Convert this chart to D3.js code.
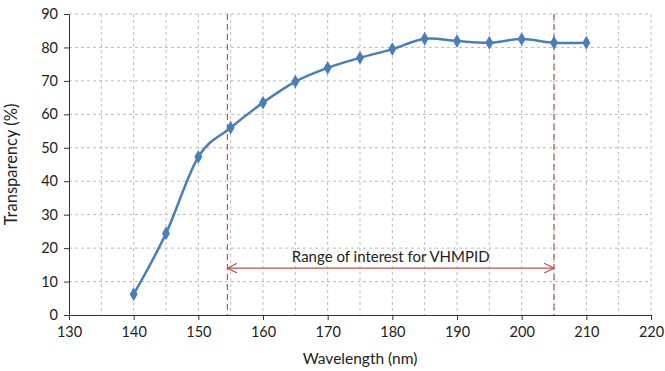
<!DOCTYPE html>
<html>
<head>
<meta charset="utf-8">
<script src="https://cdn.jsdelivr.net/npm/d3@7"></script>
<style>
  body { margin: 0; background: #fff; }
  text { font-family: Lato, "Open Sans", sans-serif; fill: #222; }
  .grid line { stroke: #bdbdbd; stroke-dasharray: 3,3; }
  .axis path, .axis line { stroke: #333; }
</style>
</head>
<body>
<div id="chart-area"></div>
<script>
const margin = {top:14, right:14, bottom:56, left:69};

const wavelength = [140,145,150,155,160,165,170,175,180,185,190,195,200,205,210];
const transparency = [6.2,24.4,47.3,56.0,63.5,69.8,73.9,76.9,79.5,82.6,81.9,81.4,82.5,81.4,81.4];

const xTicks = [130,140,150,160,170,180,190,200,210,220];
const yTicks = [0,10,20,30,40,50,60,70,80,90];
const rangeLimits = [154.5, 205];
const rangeLabel = "Range of interest for VHMPID";

var width = 665 - margin.left - margin.right;
var height = 371 - margin.top - margin.bottom;

var svg = d3.select("#chart-area").append("svg")
    .attr("width", 665)
    .attr("height", 371);

var defs = svg.append("defs");
defs.append("marker")
    .attr("id","arr")
    .attr("viewBox","0 0 10 10")
    .attr("refX",10).attr("refY",5)
    .attr("markerWidth",10).attr("markerHeight",10)
    .attr("markerUnits","userSpaceOnUse")
    .attr("orient","auto-start-reverse")
    .append("path")
    .attr("d","M0,0 L10,5 L0,10")
    .attr("fill","none")
    .attr("stroke","#c0504d")
    .attr("stroke-width",1.2);

var g = svg.append("g")
    .attr("transform","translate(" + margin.left + "," + margin.top + ")");

var x = d3.scaleLinear().domain([130,220]).range([0,width]);
var y = d3.scaleLinear().domain([0,90]).range([height,0]);

// grid
var grid = g.append("g").attr("class","grid");
grid.selectAll(".gx")
    .data(d3.range(135,221,5))
    .enter().append("line")
    .attr("x1",d => x(d)).attr("x2",d => x(d))
    .attr("y1",0).attr("y2",height);
grid.selectAll(".gy")
    .data(yTicks.slice(1))
    .enter().append("line")
    .attr("x1",0).attr("x2",width)
    .attr("y1",d => y(d)).attr("y2",d => y(d));

// axes
g.append("g")
    .attr("class","axis")
    .attr("transform","translate(0," + height + ")")
    .call(d3.axisBottom(x).tickValues(xTicks).tickSize(5).tickSizeOuter(0).tickPadding(7))
    .selectAll("text").style("font-size","14.5px");

g.append("g")
    .attr("class","axis")
    .call(d3.axisLeft(y).tickValues(yTicks).tickSize(5).tickSizeOuter(0).tickPadding(6))
    .selectAll("text").style("font-size","14.5px");

// range lines
g.selectAll(".rl")
    .data(rangeLimits)
    .enter().append("line")
    .attr("x1",d => x(d)).attr("x2",d => x(d))
    .attr("y1",0).attr("y2",height)
    .attr("stroke","#c0504d")
    .attr("stroke-width",1.2)
    .attr("stroke-dasharray","6,4");

g.append("line")
    .attr("x1",x(rangeLimits[0])).attr("x2",x(rangeLimits[1]))
    .attr("y1",y(14)).attr("y2",y(14))
    .attr("stroke","#c0504d")
    .attr("stroke-width",1.2)
    .attr("marker-start","url(#arr)")
    .attr("marker-end","url(#arr)");

g.append("text")
    .attr("x",(x(rangeLimits[0]) + x(rangeLimits[1]))/2)
    .attr("y",y(14) - 6)
    .attr("text-anchor","middle")
    .style("font-size","15px")
    .text(rangeLabel);

// series
var pts = wavelength.map((w,i) => [w, transparency[i]]);

var line = d3.line()
    .x(d => x(d[0]))
    .y(d => y(d[1]))
    .curve(d3.curveCatmullRom.alpha(0));

g.append("path")
    .datum(pts)
    .attr("fill","none")
    .attr("stroke","#4a7ebb")
    .attr("stroke-width",2.5)
    .attr("d",line);

g.selectAll(".pt")
    .data(pts)
    .enter().append("path")
    .attr("transform",d => "translate(" + x(d[0]) + "," + y(d[1]) + ")")
    .attr("d",d3.symbol().type(d3.symbolDiamond).size(55))
    .attr("fill","#4a7ebb");

// axis titles
g.append("text")
    .attr("x",width/2)
    .attr("y",height + 49)
    .attr("text-anchor","middle")
    .style("font-size","15.5px")
    .text("Wavelength (nm)");

g.append("text")
    .attr("transform","translate(" + (-52) + "," + (height/2) + ") rotate(-90)")
    .attr("text-anchor","middle")
    .style("font-size","16.5px")
    .text("Transparency (%)");
</script>
</body>
</html>
